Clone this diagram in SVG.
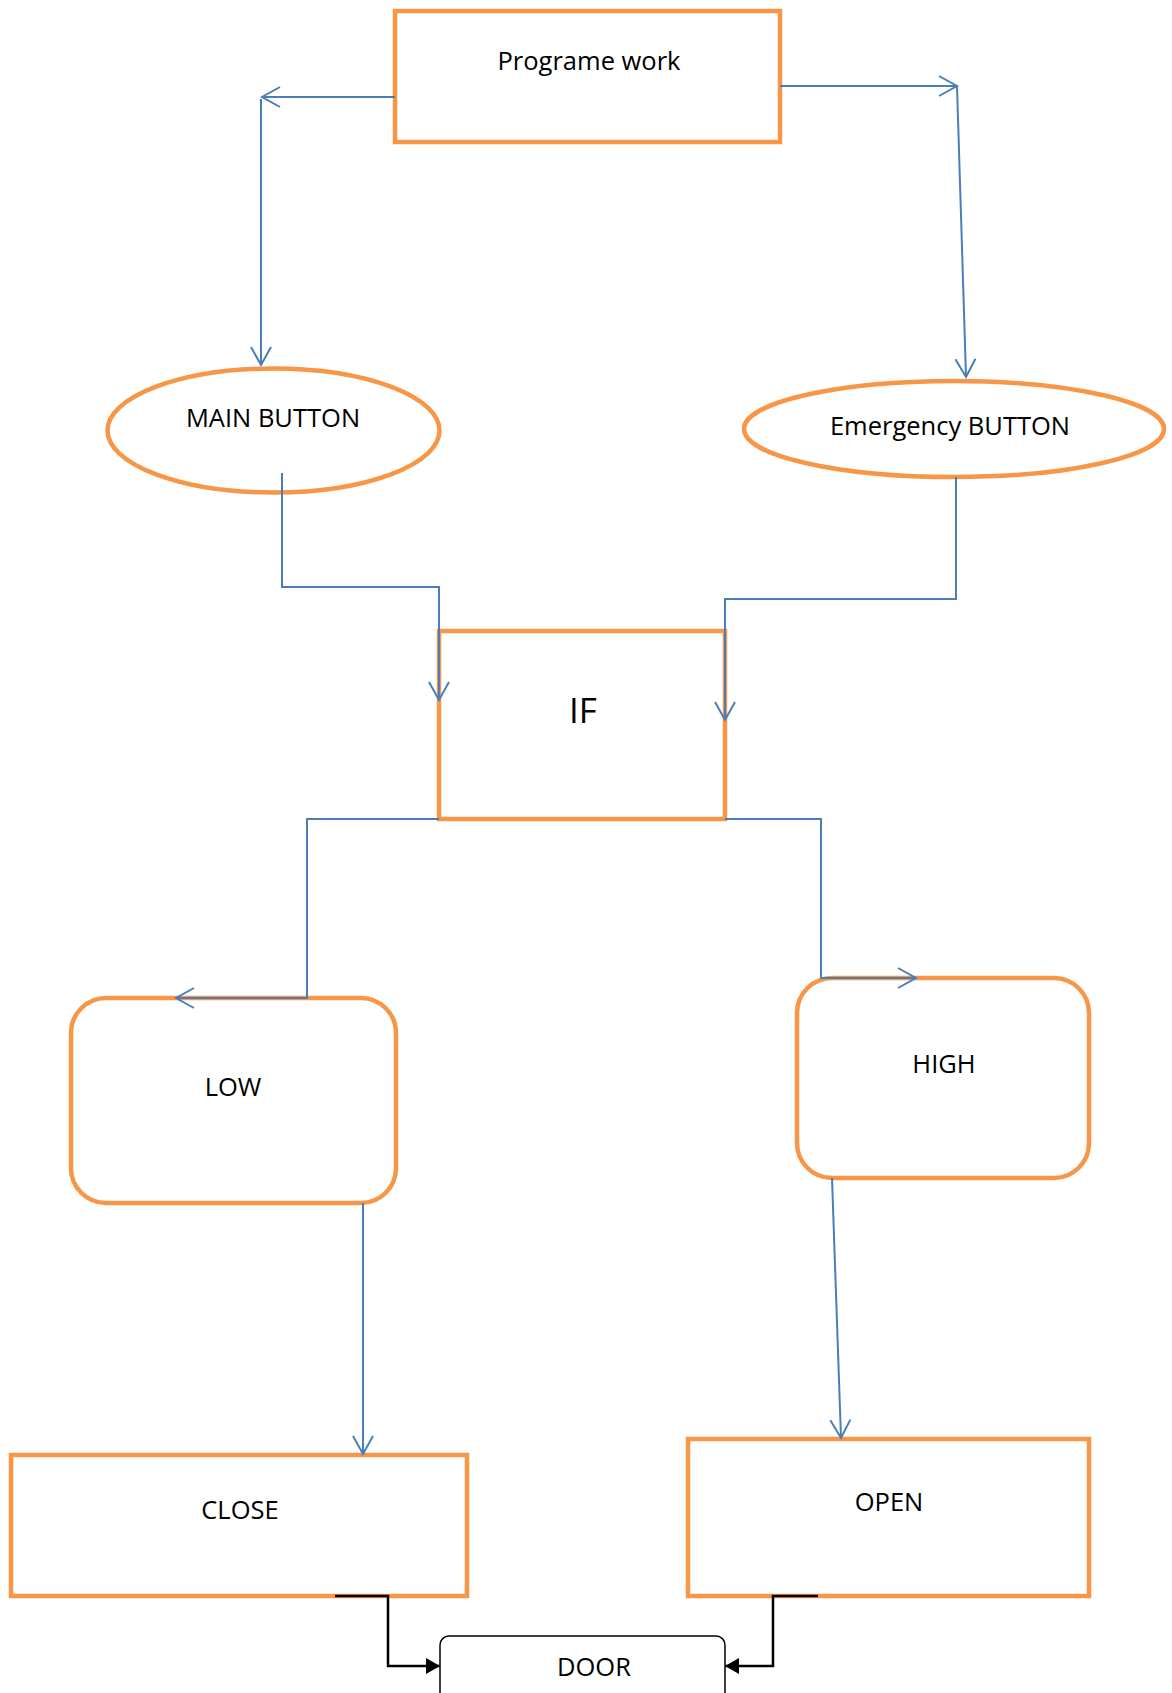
<svg xmlns="http://www.w3.org/2000/svg" width="1172" height="1693" viewBox="0 0 1172 1693">
<style>
.node{fill:#ffffff;stroke:#F79646;stroke-width:4.5}
.lbl{font-family:"Open Sans","Noto Sans",sans-serif;font-size:25.5px;fill:#000;text-anchor:middle}
.conn{fill:none;stroke:#4A7EBB;stroke-width:2}
.blk{fill:none;stroke:#000;stroke-width:2.5}
</style>
<defs>
<marker id="open" markerUnits="userSpaceOnUse" markerWidth="24" markerHeight="24" viewBox="-20 -12 24 24" refX="0" refY="0" orient="auto">
<path d="M-18,-10 L0,0 L-18,10" fill="none" stroke="#4A7EBB" stroke-width="2"/>
</marker>
<marker id="solid" markerUnits="userSpaceOnUse" markerWidth="20" markerHeight="20" viewBox="-16 -10 20 20" refX="0" refY="0" orient="auto">
<path d="M-14,-8 L0,0 L-14,8 Z" fill="#000"/>
</marker>
</defs>
<rect width="1172" height="1693" fill="#ffffff"/>
<g id="n-programe">
<rect class="node" x="395" y="11" width="385" height="131"/>
<text class="lbl" x="589" y="70">Programe work</text>
</g>
<g id="n-main">
<ellipse class="node" cx="273.5" cy="430.5" rx="166" ry="62"/>
<text class="lbl" x="273" y="427">MAIN BUTTON</text>
</g>
<g id="n-emergency">
<ellipse class="node" cx="954" cy="429" rx="210" ry="48"/>
<text class="lbl" x="950" y="435">Emergency BUTTON</text>
</g>
<g id="n-if">
<rect class="node" x="439" y="631" width="286" height="188"/>
<text class="lbl" x="583" y="723" style="font-size:35px">IF</text>
</g>
<g id="n-low">
<rect class="node" x="71" y="998" width="325" height="205" rx="35" ry="35"/>
<text class="lbl" x="233" y="1096">LOW</text>
</g>
<g id="n-high">
<rect class="node" x="797" y="978" width="292" height="200" rx="35" ry="35"/>
<text class="lbl" x="944" y="1073">HIGH</text>
</g>
<g id="n-close">
<rect class="node" x="11" y="1455" width="456" height="141"/>
<text class="lbl" x="240" y="1519">CLOSE</text>
</g>
<g id="n-open">
<rect class="node" x="688" y="1439" width="401" height="157"/>
<text class="lbl" x="889" y="1511">OPEN</text>
</g>
<g id="n-door">
<rect x="440" y="1636" width="285" height="80" rx="9" ry="9" fill="#fff" stroke="#000" stroke-width="1.5"/>
<text class="lbl" x="594" y="1676">DOOR</text>
</g>
<g id="connectors">
<path class="conn" d="M395,97 L262,97" marker-end="url(#open)"/>
<path class="conn" d="M261,99 L261,365" marker-end="url(#open)"/>
<path class="conn" d="M780,86 L957,86" marker-end="url(#open)"/>
<path class="conn" d="M957,86 L966,377" marker-end="url(#open)"/>
<path class="conn" d="M282,473 L282,587 L439,587 L439,700" marker-end="url(#open)"/>
<path class="conn" d="M956,477 L956,599 L725,599 L725,720" marker-end="url(#open)"/>
<path class="conn" d="M439,819 L307,819 L307,998 L176,998" marker-end="url(#open)"/>
<path class="conn" d="M725,819 L821,819 L821,978 L916,978" marker-end="url(#open)"/>
<path class="conn" d="M363,1203 L363,1454" marker-end="url(#open)"/>
<path class="conn" d="M832,1178 L841,1438" marker-end="url(#open)"/>
<path class="blk" d="M335,1596 L388,1596 L388,1666 L440,1666" marker-end="url(#solid)"/>
<path class="blk" d="M818,1596 L773,1596 L773,1666 L725,1666" marker-end="url(#solid)"/>
</g>
</svg>
